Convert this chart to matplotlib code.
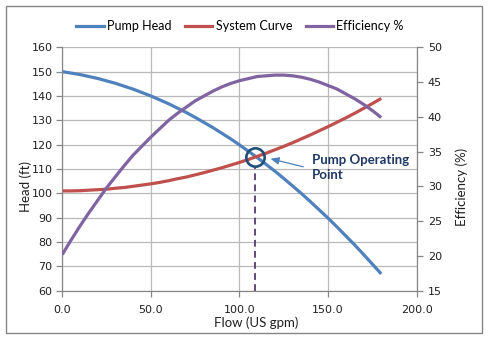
import matplotlib
matplotlib.use("Agg")
import matplotlib.pyplot as plt
from matplotlib.patches import Rectangle
from matplotlib.lines import Line2D

# flow (US gpm) and the three curves
flow = [0, 5, 10, 15, 20, 25, 30, 35, 40, 45, 50, 55, 60, 65, 70, 75, 80, 85, 90,
        95, 100, 105, 110, 115, 120, 125, 130, 135, 140, 145, 150, 155, 160, 165, 170, 175, 180]
pump_head = [150.0, 149.4, 148.8, 148.0, 147.2, 146.2, 145.2, 144.0, 142.8, 141.4,
             140.0, 138.4, 136.8, 135.0, 133.2, 131.2, 129.1, 127.0, 124.7,
             122.4, 119.9, 117.3, 114.7, 111.9, 109.1, 106.1, 103.0, 99.9, 96.6,
             93.2, 89.8, 86.2, 82.5, 78.8, 74.9, 70.9, 66.9]
system_curve = [101.0, 101.0, 101.1, 101.3, 101.5, 101.7, 102.1, 102.4, 102.9, 103.4,
                103.9, 104.5, 105.2, 106.0, 106.7, 107.6, 108.5, 109.5, 110.5,
                111.6, 112.7, 113.9, 115.2, 116.5, 117.9, 119.3, 120.8, 122.4, 124.0,
                125.7, 127.4, 129.2, 131.0, 132.9, 134.9, 136.9, 139.0]
efficiency = [20.2, 22.3, 24.3, 26.2, 28.0, 29.8, 31.4, 33.0, 34.5, 35.8,
              37.1, 38.3, 39.5, 40.5, 41.4, 42.3, 43.0, 43.7, 44.3,
              44.8, 45.2, 45.5, 45.8, 45.9, 46.0, 46.0, 45.9, 45.7, 45.4,
              45.0, 44.5, 44.0, 43.3, 42.6, 41.8, 40.9, 39.9]

op_flow = 109.0
op_head = 114.8

blue = "#4f81bd"
red = "#c0504d"
purple = "#8064a2"
grid_c = "#b9b9b9"
axis_c = "#868686"
txt = "Lato"

fig = plt.figure(figsize=(4.89, 3.42), dpi=100)
fig.patches.append(Rectangle((6/489, 1-333/342), 476/489, 327/342, transform=fig.transFigure,
                             fill=False, edgecolor=axis_c, linewidth=1.0))

ax = fig.add_axes([62.3/489, 1-290.7/342, (416.7-62.3)/489, (290.7-47.3)/342])
ax2 = ax.twinx()

line_kw = dict(lw=2.3, solid_capstyle="butt", solid_joinstyle="round", zorder=3)
ax.plot(flow, pump_head, color=blue, **line_kw)
ax.plot(flow, system_curve, color=red, **line_kw)
ax2.plot(flow, efficiency, color=purple, **line_kw)

# operating point marker, drop line and callout
ax.plot([op_flow, op_flow], [60, op_head - 4.3], color="#604a7b", lw=1.4,
        dashes=(3.5, 2.2), zorder=4)
ax.plot([op_flow], [op_head], marker="o", ms=13.2, mfc="none", mec="#1f4e79", mew=1.9, zorder=5)
ax.annotate("", xy=(117.5, 114.2), xytext=(136.0, 110.9),
            arrowprops=dict(arrowstyle="-|>,head_length=0.5,head_width=0.22",
                            color=blue, lw=0.9, shrinkA=0, shrinkB=0), zorder=5)
ax.text(140.9, 110.6, "Pump Operating\nPoint", fontsize=9.5, fontweight="bold", color="#1f3864",
        family=txt, va="center", ha="left", linespacing=1.35)

ax.set_xlim(0, 200)
ax.set_ylim(60, 160)
ax2.set_ylim(15, 50)
ax.set_xticks(range(0, 201, 50))
ax.set_xticklabels([f"{v:.1f}" for v in range(0, 201, 50)])
ax.set_yticks(range(60, 161, 10))
ax2.set_yticks(range(15, 51, 5))

ax.grid(True, color=grid_c, lw=0.9)
ax.set_axisbelow(True)
for a in (ax, ax2):
    a.spines["top"].set_visible(False)
    for s in ("left", "right", "bottom"):
        a.spines[s].set_color(axis_c)
    a.tick_params(colors=axis_c, labelcolor="#202020", labelsize=8, length=4, width=0.9)
ax.tick_params(axis="x", pad=6)
ax.tick_params(axis="y", pad=3)
ax2.tick_params(axis="y", pad=4)

fig.text(26/489, 1-187/342, "Head (ft)", rotation=90, ha="center", va="center",
         fontsize=9.5, family=txt, color="#202020")
fig.text(462/489, 1-187/342, "Efficiency (%)", rotation=90, ha="center", va="center",
         fontsize=9.5, family=txt, color="#202020")
fig.text(256/489, 1-323/342, "Flow (US gpm)", ha="center", va="center",
         fontsize=9.5, family=txt, color="#202020")

handles = [Line2D([], [], color=blue, lw=2.3), Line2D([], [], color=red, lw=2.3),
           Line2D([], [], color=purple, lw=2.3)]
fig.legend(handles, ["Pump Head", "System Curve", "Efficiency %"], loc="center",
           bbox_to_anchor=(240/489, 1-26/342), ncol=3, frameon=False,
           prop={"family": txt, "size": 9}, handlelength=2.2, handletextpad=0.25,
           columnspacing=1.1)

fig.savefig("out.png", dpi=100)
